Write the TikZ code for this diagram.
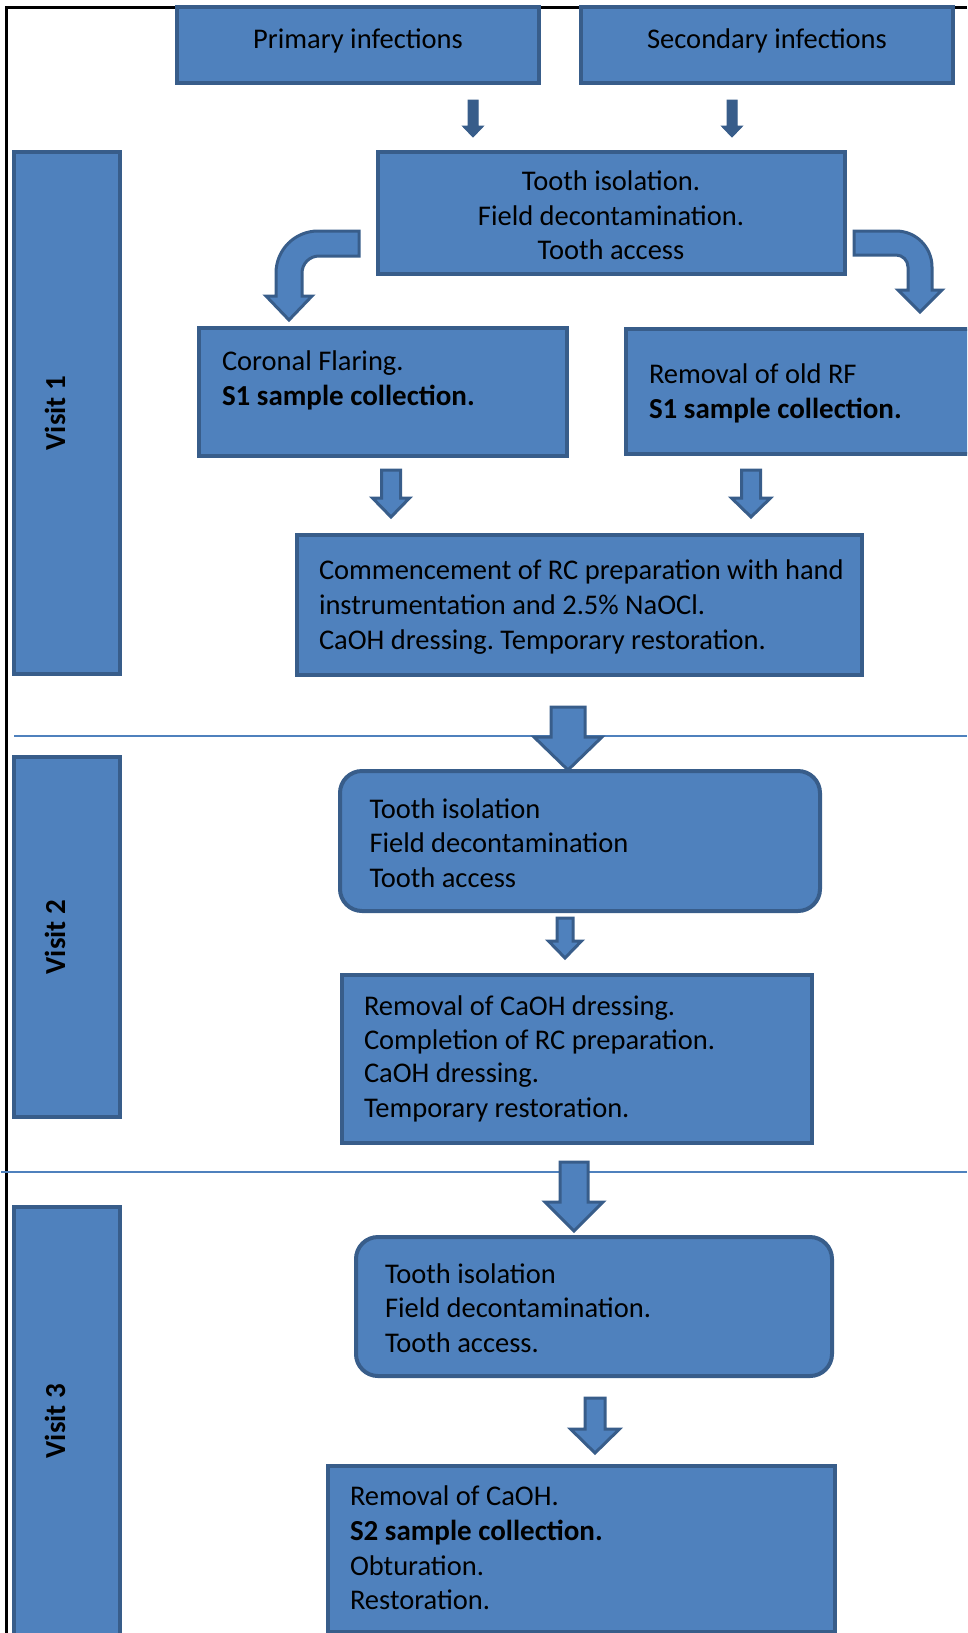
\documentclass[tikz,border=0pt]{standalone}
\usepackage{fontspec}
\setmainfont{Carlito}
\frenchspacing
\definecolor{fillb}{HTML}{4F81BD}
\definecolor{edgeb}{HTML}{385D8A}
\tikzset{
 box/.style={draw=edgeb, fill=fillb, line width=4pt, inner sep=0pt, outer sep=0pt, rectangle},
 rbox/.style={box, rounded corners=22pt},
 txt/.style={inner sep=0pt, outer sep=0pt, font=\fontsize{28.5}{35}\selectfont, text=black},
 btxt/.style={inner sep=0pt, outer sep=0pt, font=\fontsize{29}{35}\selectfont\bfseries, text=black},
 barrow/.style={draw=edgeb, fill=fillb, line width=3pt, line join=miter},
 sarrow/.style={draw=edgeb, fill=edgeb, line width=1pt, line join=miter},
 sepline/.style={draw=fillb, line width=2pt},
 frameline/.style={draw=black, line width=2.5pt},
}
\newcommand\boxat[6]{\node[#2, minimum width={#5-#3}, minimum height={#6-#4}] (#1) at ({(#3+#5)/2},{(#4+#6)/2}) {};}
\newcommand\myarrow[7]{\draw[#1] ({#2-#6},#3) -- ({#2+#6},#3) -- ({#2+#6},#4) -- ({#2+#7},#4) -- (#2,#5) -- ({#2-#7},#4) -- ({#2-#6},#4) -- cycle;}
\begin{document}
\begin{tikzpicture}[x=1pt,y=-1pt]
\useasboundingbox (0,0) rectangle (967,1633);
\clip (0,0) rectangle (967,1633);
% frame
\coordinate (ftl) at (6.5,7.5);
\coordinate (ftr) at (967,7.5);
\coordinate (fbl) at (6.5,1633);
\draw[frameline] (ftr) -- (ftl) -- (fbl);
% separators
\coordinate (s1a) at (14,736);
\coordinate (s1b) at (967,736);
\coordinate (s2a) at (1,1172);
\coordinate (s2b) at (967,1172);
\draw[sepline] (s1a) -- (s1b);
\draw[sepline] (s2a) -- (s2b);
% visit bars
\boxat{visit1}{box}{13.5}{152}{120}{674}
\boxat{visit2}{box}{13.5}{757}{120}{1117}
\boxat{visit3}{box}{13.5}{1207}{120}{1650}
\node[btxt, rotate=90] (v1l) at (55,413) {Visit 1};
\node[btxt, rotate=90] (v2l) at (55,937) {Visit 2};
\node[btxt, rotate=90] (v3l) at (55,1421) {Visit 3};
% boxes
\boxat{prim}{box}{177}{7}{539}{83}
\boxat{sec}{box}{581}{7}{953}{83}
\boxat{tooth}{box}{378}{152}{845}{274}
\boxat{coronal}{box}{199}{328}{567}{456}
\boxat{oldrf}{box}{626}{329}{985}{454}
\boxat{comm}{box}{297}{535}{862}{675}
\boxat{vtwoa}{rbox}{340}{771}{820}{911}
\boxat{vtwob}{box}{342}{975}{812}{1143}
\boxat{vthreea}{rbox}{356}{1237}{832}{1376}
\boxat{vthreeb}{box}{328}{1466}{835}{1632}
% texts
\node[txt, anchor=base] (tp) at (358,48) {Primary infections};
\node[txt, anchor=base] (ts) at (767,48) {Secondary infections};
\node[txt, anchor=base] (tt1) at (611,190.5) {Tooth isolation.};
\node[txt, anchor=base] (tt2) at (611,225) {Field decontamination.};
\node[txt, anchor=base] (tt3) at (611,259.5) {Tooth access};
\node[txt, anchor=base west] (tc1) at (222,370.5) {Coronal Flaring.};
\node[btxt, anchor=base west] (tc2) at (222,405.5) {S1 sample collection.};
\node[txt, anchor=base west] (tr1) at (649,383) {Removal of old RF};
\node[btxt, anchor=base west] (tr2) at (649,418) {S1 sample collection.};
\node[txt, anchor=base west] (tm1) at (319,579.5) {Commencement of RC preparation with hand};
\node[txt, anchor=base west] (tm2) at (319,614.5) {instrumentation and 2.5\% NaOCl.};
\node[txt, anchor=base west] (tm3) at (319,649.5) {CaOH dressing. Temporary restoration.};
\node[txt, anchor=base west] (ta1) at (369.5,818.5) {Tooth isolation};
\node[txt, anchor=base west] (ta2) at (369.5,852.5) {Field decontamination};
\node[txt, anchor=base west] (ta3) at (369.5,887) {Tooth access};
\node[txt, anchor=base west] (tb1) at (364,1015) {Removal of CaOH dressing.};
\node[txt, anchor=base west] (tb2) at (364,1049.5) {Completion of RC preparation.};
\node[txt, anchor=base west] (tb3) at (364,1082.5) {CaOH dressing.};
\node[txt, anchor=base west] (tb4) at (364,1117) {Temporary restoration.};
\node[txt, anchor=base west] (tx1) at (385,1283.5) {Tooth isolation};
\node[txt, anchor=base west] (tx2) at (385,1317.5) {Field decontamination.};
\node[txt, anchor=base west] (tx3) at (385,1352.5) {Tooth access.};
\node[txt, anchor=base west] (ty1) at (350,1505.5) {Removal of CaOH.};
\node[btxt, anchor=base west] (ty2) at (350,1540.5) {S2 sample collection.};
\node[txt, anchor=base west] (ty3) at (350,1575) {Obturation.};
\node[txt, anchor=base west] (ty4) at (350,1609.5) {Restoration.};
% small solid arrows
\myarrow{sarrow}{473}{100}{126}{137}{5}{10.5}
\myarrow{sarrow}{732}{100}{126}{137}{5}{10.5}
% curved arrows
\draw[barrow] (359,231) -- (318,231) .. controls (294.8,231) and (276,249.8) .. (276,273) -- (276,296) -- (266,296) -- (289,320) -- (312,296) -- (302,296) -- (302,273) .. controls (302,263.6) and (309.6,256) .. (319,256) -- (359,256) -- cycle;
\draw[barrow] (854,231) -- (896,231) .. controls (915.9,231) and (932,247.1) .. (932,267) -- (932,290) -- (942,290) -- (920,312) -- (898,290) -- (908,290) -- (908,267) .. controls (908,260.4) and (902.6,255) .. (896,255) -- (854,255) -- cycle;
% block arrows
\myarrow{barrow}{391}{470}{498}{517}{9.5}{18.5}
\myarrow{barrow}{751}{470}{498}{517}{9.5}{19.5}
\myarrow{barrow}{568}{707}{737}{770}{17}{34}
\myarrow{barrow}{565}{918}{941}{958}{8}{16.5}
\myarrow{barrow}{574}{1162}{1202}{1231}{14}{29}
\myarrow{barrow}{595}{1398}{1429}{1453}{10}{24.5}
\end{tikzpicture}
\end{document}
